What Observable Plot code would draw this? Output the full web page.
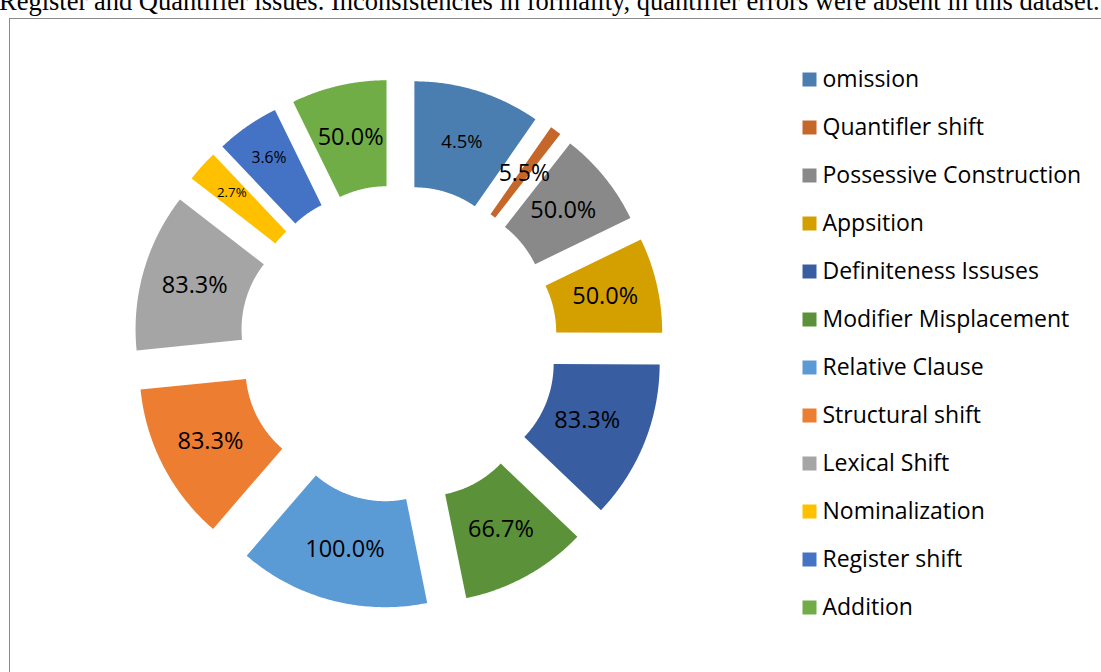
<!DOCTYPE html>
<html><head><meta charset="utf-8">
<script src="https://cdn.jsdelivr.net/npm/d3@7"></script>
<script src="https://cdn.jsdelivr.net/npm/@observablehq/plot@0.6"></script>
<style>
html,body{margin:0;padding:0;background:#fff;width:1101px;height:672px;overflow:hidden;position:relative}
#note{position:absolute;left:-1px;top:-12px;font-family:"Liberation Serif","Times New Roman",serif;font-size:26.5px;white-space:nowrap;line-height:1;color:#000}
#frame{position:absolute;left:9px;top:18px;width:1200px;height:800px;border:1px solid #8a8a8a;box-sizing:border-box}
#chart,#legend{position:absolute;left:0;top:0}
</style></head><body>
<div id="note">Register and Quantifier issues. Inconsistencies in formality, quantifier errors were absent in this dataset.</div>
<div id="frame"></div>
<div id="chart"></div><div id="legend"></div>
<script>
// ---- data ----
const categories = ["omission","Quantifler shift","Possessive Construction","Appsition","Definiteness Issuses","Modifier Misplacement","Relative Clause","Structural shift","Lexical Shift","Nominalization","Register shift","Addition"];
const sliceValues = [66.7, 6, 50, 50, 83.3, 66.7, 100, 83.3, 83.3, 16.7, 33.3, 50];
const labels = ["4.5%","5.5%","50.0%","50.0%","83.3%","66.7%","100.0%","83.3%","83.3%","2.7%","3.6%","50.0%"];
const colors = ["#4A7EB1","#C5672A","#898989","#D4A000","#385EA1","#5B9138","#5B9BD5","#ED7D31","#A5A5A5","#FFC000","#4472C4","#70AD47"];
// ---- style ----
const labelSizes = [18.5, 23, 23.5, 23.5, 23.5, 23.5, 23.5, 23.5, 23.5, 13.3, 15.7, 23.5];
const labelRadius = [0.75, 0.75, 0.75, 0.75, 0.71, 0.75, 0.75, 0.75, 0.75, 0.81, 0.82, 0.75];
const inner = 0.5, explode = 0.25;

const rows = categories.map((c, i) => ({cat: c, value: sliceValues[i], label: labels[i], fs: labelSizes[i], lr: labelRadius[i]}));
const arcs = d3.pie().sort(null).value(d => d.value)(rows);

const polys = [];
const texts = [];
for (const a of arcs) {
  const m = (a.startAngle + a.endAngle) / 2;
  const ox = explode * Math.sin(m), oy = explode * Math.cos(m);
  const n = 80;
  for (let k = 0; k <= n; k++) {
    const t = a.startAngle + (a.endAngle - a.startAngle) * k / n;
    polys.push({cat: a.data.cat, x: ox + Math.sin(t), y: oy + Math.cos(t)});
  }
  for (let k = n; k >= 0; k--) {
    const t = a.startAngle + (a.endAngle - a.startAngle) * k / n;
    polys.push({cat: a.data.cat, x: ox + inner * Math.sin(t), y: oy + inner * Math.cos(t)});
  }
  const rc = a.data.lr;
  texts.push({x: ox + rc * Math.sin(m), y: oy + rc * Math.cos(m), label: a.data.label, fs: a.data.fs});
}

const cx = 398, cy = 343.4, R = 212;
const chart = Plot.plot({
  width: 1101, height: 672, margin: 0,
  x: {domain: [-1, 1], range: [cx - R, cx + R], axis: null},
  y: {domain: [-1, 1], range: [cy + R, cy - R], axis: null},
  color: {domain: categories, range: colors},
  style: {background: "transparent", fontFamily: "'Open Sans', sans-serif", overflow: "visible"},
  marks: [
    Plot.line(polys, {x: "x", y: "y", z: "cat", fill: "cat", stroke: "none", curve: "linear-closed"}),
    Plot.text(texts, {x: "x", y: "y", text: "label", fontSize: "fs", fill: "#000"})
  ]
});
document.getElementById("chart").append(chart);

const legend = Plot.plot({
  width: 1101, height: 672, margin: 0,
  x: {domain: [0, 1], range: [809, 1000], axis: null},
  y: {type: "point", padding: 0, domain: categories, range: [78, 608.2], axis: null},
  color: {domain: categories, range: colors},
  style: {background: "transparent", fontFamily: "'Open Sans', sans-serif", overflow: "visible"},
  marks: [
    Plot.dot(categories, {x: () => 0, y: d => d, fill: d => d, symbol: "square", r: 14 / Math.sqrt(Math.PI), stroke: "none"}),
    Plot.text(categories, {x: () => 0, y: d => d, text: d => d, textAnchor: "start", dx: 13, fontSize: 23, fill: "#000"})
  ]
});
document.getElementById("legend").append(legend);
</script>
</body></html>
